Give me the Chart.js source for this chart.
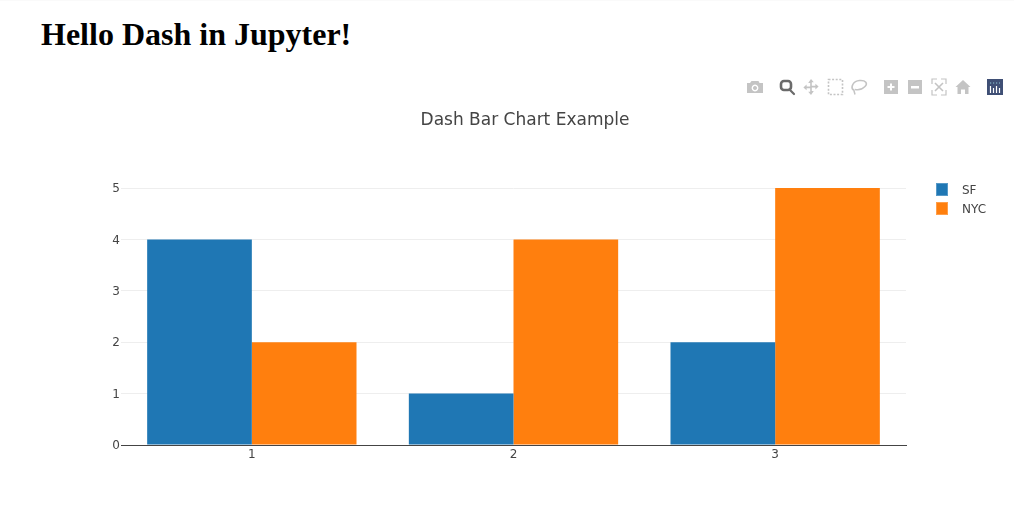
<!DOCTYPE html>
<html>
<head>
<meta charset="utf-8">
<title>Hello Dash in Jupyter!</title>
<script src="https://cdn.jsdelivr.net/npm/chart.js@4"></script>
<style>
html, body { margin: 0; padding: 0; background: #fff; overflow: hidden; }
#page { position: relative; width: 1014px; height: 521px; border-top: 1px solid #fafafa; box-sizing: border-box; }
h1 { position: absolute; left: 41px; top: 15px; margin: 0; font: bold 32px/37px "Liberation Serif", serif; color: #000; white-space: nowrap; }
#wrap { position: absolute; left: 0; top: -1px; width: 1014px; height: 521px; }
#plotTitle { position: absolute; left: 321px; width: 408px; top: 108px; text-align: center; font: 17px/20px "DejaVu Sans", sans-serif; color: #444; }
#legend { position: absolute; left: 936px; top: 180px; font: 12px/19px "DejaVu Sans", sans-serif; color: #444; }
#legend div { position: relative; height: 19px; padding-left: 26px; white-space: nowrap; }
#legend i { position: absolute; left: 0; top: 2px; width: 12px; height: 13px; box-sizing: border-box; border: 1px solid rgba(255,255,255,.25); }
#bar { position: absolute; left: 0; top: -1px; }
</style>
</head>
<body>
<div id="page">
<h1>Hello Dash in Jupyter!</h1>
<div id="wrap"><canvas id="c" width="1014" height="521"></canvas></div>
<div id="plotTitle">Dash Bar Chart Example</div>
<div id="legend"></div>
<svg id="bar" width="1014" height="110" fill="#c4c4c4">
  <!-- camera -->
  <path fill-rule="evenodd" d="M747 83h3l1.5-2h7l1 2h3.5v10h-16zM755 84.6a3.4 3.4 0 1 0 .01 0zM755 86a2 2 0 1 1-.01 0z"/>
  <!-- zoom, the active one -->
  <g fill="none" stroke="#6b6b6b">
    <rect x="781" y="81" width="10" height="9" rx="3" stroke-width="2.6"/>
    <path d="M789.500 89.500l4.500 4.500" stroke-width="2.2" stroke-linecap="round"/>
  </g>
  <!-- pan -->
  <path d="M811 79l2.800 3.200h-2v3.600h3.600v-2l3.200 2.800-3.200 2.800v-2h-3.600v3.600h2L811 95l-2.800-3.200h2v-3.600h-3.600v2l-3.200-2.800 3.200-2.800v2h3.600v-3.600h-2z"/>
  <!-- box select -->
  <rect x="828.500" y="79.500" width="14" height="15" fill="none" stroke="#c4c4c4" stroke-width="1.6" stroke-dasharray="2 1.600"/>
  <!-- lasso -->
  <path d="M853 90c-2.500-3 0-9 6.500-9.500s8.500 3 5.500 6-7 3.800-10 3M853.500 89l1.500 5.500" fill="none" stroke="#c4c4c4" stroke-width="1.500"/>
  <!-- zoom in / out -->
  <path fill-rule="evenodd" d="M884 80h14v14h-14zM890 83.500v2.500h-2.500v2h2.500v2.500h2V88h2.500v-2h-2.500v-2.500z"/>
  <path fill-rule="evenodd" d="M908 80h14v14h-14zM911 86v2.500h8V86z"/>
  <!-- autoscale -->
  <path d="M932 84v-5h5M941 79h5v5M946 90v5h-5M937 95h-5v-5" fill="none" stroke="#c4c4c4" stroke-width="1.200"/>
  <path d="M935 83l8 8M943 83l-8 8" fill="none" stroke="#c4c4c4" stroke-width="1.600"/>
  <!-- home -->
  <path d="M963 80l7.500 7h-2v7h-3.500v-4.500h-4V94h-3.500v-7h-2z"/>
  <!-- logo -->
  <rect x="987" y="79" width="16" height="16" fill="#3f4f75"/>
  <path d="M990.500 86v7M993.500 88v5M996.500 86v7M999.500 88v5" stroke="#fff" stroke-width="1.200"/>
  <path d="M990 83h10" stroke="#8fc7d6" stroke-width="1.200" stroke-dasharray="1.200 1.800"/>
</svg>
</div>
<script>
var categories = ["1", "2", "3"];
var seriesNames = ["SF", "NYC"];
var sfValues = [4, 1, 2];
var nycValues = [2, 4, 5];
var seriesColors = ["#1f77b4", "#ff7f0e"];

var tickFont = { family: "DejaVu Sans", size: 12 };

// y tick labels sit one pixel lower than Chart.js puts them
var nudgeYLabels = {
	id: 'nudgeYLabels',
	beforeDraw: function(chart){
		chart.scales.y.getLabelItems().forEach(function(item){
			if (!item.nudged) {
				item.options.translation[1] += 1;
				item.nudged = true;
			}
		});
	}
};

var chart = new Chart(document.getElementById('c'), {
	type: 'bar',
	data: {
		labels: categories,
		datasets: [
			{ label: seriesNames[0], data: sfValues, backgroundColor: seriesColors[0], borderWidth: 0 },
			{ label: seriesNames[1], data: nycValues, backgroundColor: seriesColors[1], borderWidth: 0 }
		]
	},
	plugins: [nudgeYLabels],
	options: {
		responsive: false,
		animation: false,
		layout: { padding: { left: 0, right: 108, top: 188, bottom: 46 } },
		plugins: { legend: { display: false }, title: { display: false }, tooltip: { enabled: false } },
		datasets: { bar: { categoryPercentage: 0.8, barPercentage: 1 } },
		scales: {
			x: {
				afterFit: function(scale){ scale.height = 30; },
				grid: { display: false },
				border: { display: true, color: '#444', width: 1 },
				ticks: { color: '#444', font: tickFont, padding: -5, maxRotation: 0 }
			},
			y: {
				min: 0,
				max: 5,
				afterFit: function(scale){ scale.width = 121; },
				grid: { color: '#eee', drawTicks: false },
				border: { display: false },
				ticks: { color: '#444', font: tickFont, stepSize: 1, padding: 1 }
			}
		}
	}
});

var legend = document.getElementById('legend');
seriesNames.forEach(function(name, i){
	var row = document.createElement('div');
	var swatch = document.createElement('i');
	swatch.style.background = seriesColors[i];
	row.appendChild(swatch);
	row.appendChild(document.createTextNode(name));
	legend.appendChild(row);
});
</script>
</body>
</html>
